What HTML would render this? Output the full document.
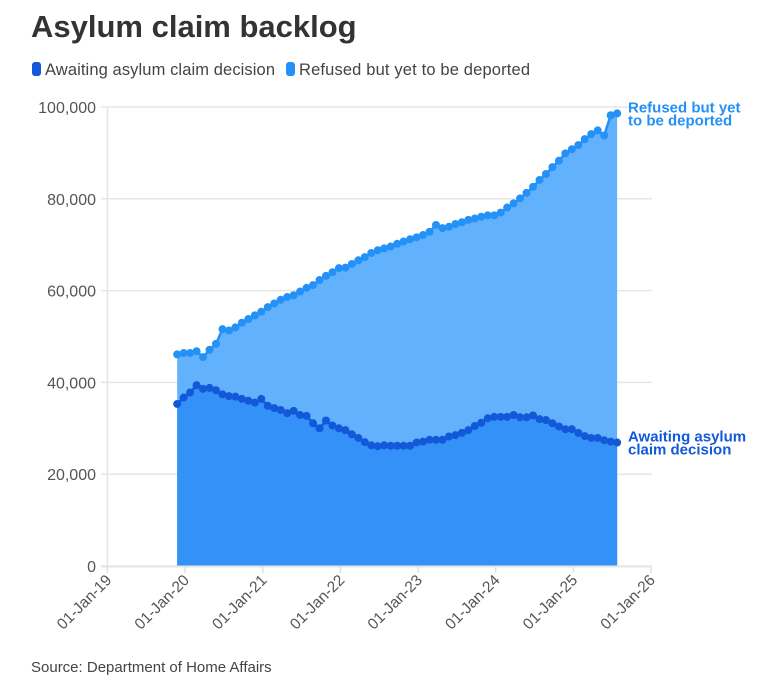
<!DOCTYPE html>
<html><head><meta charset="utf-8"><style>
body{margin:0;background:#fff;width:782px;height:683px;overflow:hidden;font-family:"Liberation Sans",sans-serif;}
</style></head><body>
<svg width="782" height="683" xmlns="http://www.w3.org/2000/svg">
<text x="31" y="37" font-size="31" font-weight="bold" fill="#333">Asylum claim backlog</text>
<g>
<rect x="32" y="62" width="9" height="14" rx="3" fill="#1259d9"/>
<text x="45" y="75" font-size="16.5" fill="#444" textLength="230">Awaiting asylum claim decision</text>
<rect x="286" y="62" width="9" height="14" rx="3" fill="#2491f7"/>
<text x="299" y="75" font-size="16.5" fill="#444" textLength="231">Refused but yet to be deported</text>
</g>
<g id="grid"></g>
<g id="areas"></g>
<g id="axes"></g>
<text x="31" y="672" font-size="15" fill="#444">Source: Department of Home Affairs</text>
</svg>
<script>
const startYear = 2019, startMonth = 11; // Dec 2019
const awaiting = [35.3,36.7,37.8,39.4,38.6,38.8,38.3,37.4,37.0,36.9,36.4,36.0,35.6,36.4,34.9,34.4,34.0,33.3,33.8,32.9,32.7,31.1,30.0,31.7,30.6,30.0,29.6,28.7,27.9,27.0,26.3,26.1,26.3,26.2,26.2,26.2,26.2,26.9,27.1,27.5,27.5,27.5,28.2,28.5,29.0,29.6,30.5,31.2,32.2,32.5,32.5,32.5,32.9,32.4,32.4,32.8,32.0,31.8,31.1,30.4,29.8,29.8,29.0,28.3,27.9,27.9,27.4,27.1,26.9];
const refused = [46.1,46.4,46.4,46.8,45.5,47.1,48.4,51.6,51.3,52.0,53.0,53.8,54.6,55.4,56.4,57.2,58.0,58.6,59.0,59.8,60.6,61.2,62.3,63.2,64.0,64.9,65.0,65.8,66.6,67.3,68.2,68.8,69.2,69.6,70.2,70.7,71.2,71.6,72.1,72.8,74.3,73.6,73.9,74.5,74.9,75.4,75.7,76.1,76.4,76.4,77.0,78.1,79.0,80.1,81.3,82.6,84.1,85.4,86.9,88.3,89.9,90.8,91.7,93.0,94.1,94.9,93.8,98.2,98.6];
const yTicks = [0,20000,40000,60000,80000,100000];
const xTickYears = [2019,2020,2021,2022,2023,2024,2025,2026];
const NS="http://www.w3.org/2000/svg";
const X0=107.5,X1=651,Y0=566,Y1=107;
const xm = m => X0 + (m/84)*(X1-X0);
const y = v => Y0 - (v/100000)*(Y0-Y1);
function mk(tag,attrs,parent){const e=document.createElementNS(NS,tag);for(const k in attrs)e.setAttribute(k,attrs[k]);parent.appendChild(e);return e;}
const grid=document.getElementById('grid'),areas=document.getElementById('areas'),axes=document.getElementById('axes');
yTicks.forEach(t=>{
  const l=mk('line',{x1:101,x2:652,y1:y(t),y2:y(t),stroke:'#e6e6e6','stroke-width':1.5},grid);
  
  
  const tx=mk('text',{x:96,y:y(t)+6,'text-anchor':'end','font-size':16,fill:'#555'},axes);
  tx.textContent=t.toLocaleString('en-US');
  
  
});
mk('line',{x1:107.5,x2:107.5,y1:107,y2:566,stroke:'#e6e6e6','stroke-width':1.5},grid);
mk('line',{x1:101,x2:652,y1:566.5,y2:566.5,stroke:'#e6e6e6','stroke-width':2},axes);
xTickYears.forEach(yr=>{
  const x=xm((yr-2019)*12);
  mk('line',{x1:x,x2:x,y1:566,y2:573,stroke:'#e0e0e0','stroke-width':1.5},axes);
  const tx=mk('text',{x:x+5,y:581,'text-anchor':'end','font-size':15.5,fill:'#555',transform:`rotate(-45 ${x+5} 581)`},axes);
  tx.textContent='01-Jan-'+String(yr).slice(2);
  
  
});
const px=i=>xm(startMonth+i)-1.5;
function pts(arr){return arr.map((v,i)=>px(i)+','+y(v*1000)).join(' ');}
const n=refused.length;
const ar1=mk('polygon',{points:`${px(0)},${Y0} `+pts(refused)+` ${px(n-1)},${Y0}`,fill:'#62b1fd'},areas);


const ar2=mk('polygon',{points:`${px(0)},${Y0} `+pts(awaiting)+` ${px(awaiting.length-1)},${Y0}`,fill:'#3391f7'},areas);


[[refused,'#2491f7','refused'],[awaiting,'#1259d9','awaiting']].forEach(([arr,c,nm])=>{
  const pl=mk('polyline',{points:pts(arr),fill:'none',stroke:c,'stroke-width':2.5},areas);
  
  
  arr.forEach((v,i)=>{
    const d=mk('circle',{cx:px(i),cy:y(v*1000),r:4,fill:c},areas);
    
    
  });
});
function lab(lines,color,yy,nm){
  const t=mk('text',{x:628,y:yy,'font-size':15,'font-weight':'bold',fill:color},axes);
  
  
  lines.forEach((s,i)=>{const ts=mk('tspan',{x:628,dy:i?13:0},t);ts.textContent=s;});
}
lab(['Refused but yet','to be deported'],'#2491f7',y(refused[n-1]*1000)-1,'label-refused');
lab(['Awaiting asylum','claim decision'],'#1259d9',y(awaiting[n-1]*1000)-1,'label-awaiting');
</script>
</body></html>
